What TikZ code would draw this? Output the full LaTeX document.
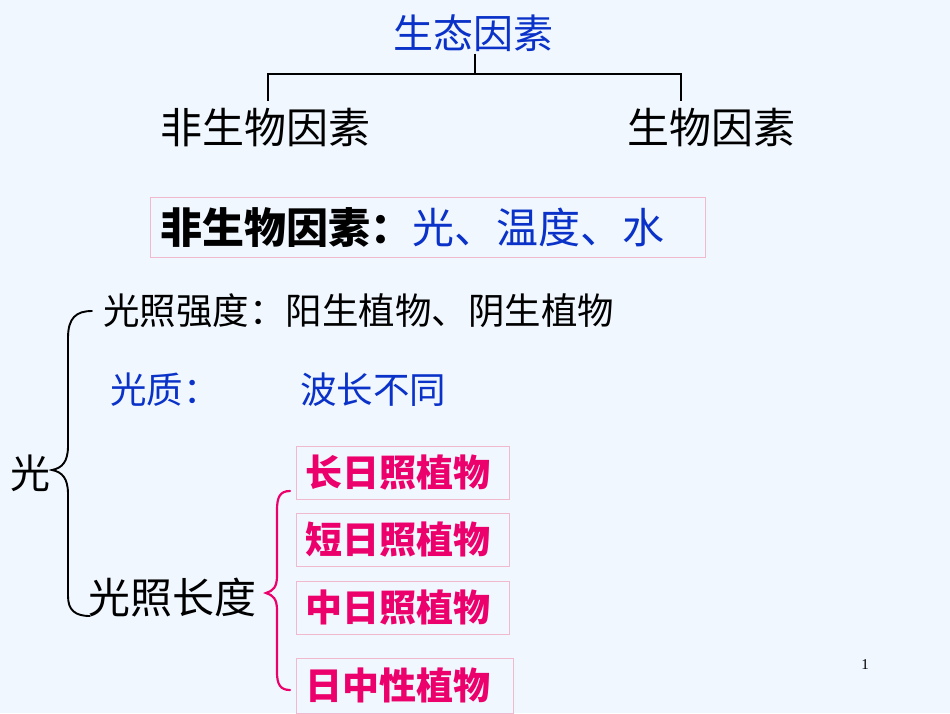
\documentclass[tikz,border=0pt]{standalone}
\usepackage{fontspec}
\setmainfont{Noto Sans CJK SC}
\newfontfamily\numfont{Liberation Serif}
\usepackage{tikz}

\definecolor{pagebg}{RGB}{240,247,254}
\definecolor{ecoblue}{RGB}{10,50,200}
\definecolor{plantpink}{RGB}{236,0,108}
\definecolor{boxpink}{RGB}{240,185,205}

\begin{document}
\begin{tikzpicture}[
        x=1pt,y=-1pt,
        title/.style={font=\fontsize{40}{44}\selectfont,text=ecoblue,inner sep=2pt},
        kind/.style={font=\fontsize{42}{46}\selectfont,inner sep=2pt},
        item/.style={anchor=west,font=\fontsize{36.5}{40}\selectfont,inner sep=0pt},
        plantbox/.style={draw=boxpink,line width=0.8pt,anchor=north west,minimum width=213,
            minimum height=53,inner xsep=9pt,text width=195pt,align=left,
            font=\fontsize{37}{40}\selectfont\bfseries,text=plantpink},
        tree/.style={line width=2.8pt},
        brace/.style={line width=1.9pt,line cap=round}
    ]
        \fill[pagebg] (0,0) rectangle (950,713);
        \useasboundingbox (0,0) rectangle (950,713);

        % Define the nodes
        \node[title] (eco) at (473,33) {生态因素};
        \node[kind] (abio) at (265,128) {非生物因素};
        \node[kind] (bio) at (711,128) {生物因素};
        \coordinate (fork) at (475,74);
        \coordinate (abioTop) at (268,101);
        \coordinate (bioTop) at (681,101);

        \node[draw=boxpink,line width=0.8pt,anchor=north west,minimum height=60,
            text width=535pt,inner xsep=10pt,align=left,
            font=\fontsize{42}{46}\selectfont] (abioBox) at (150,197)
            {\textbf{非生物因素：}\textcolor{ecoblue}{光、温度、水}};

        \node[item] (intensity) at (103,311) {光照强度：阳生植物、阴生植物};
        \node[item,text=ecoblue] (quality) at (110,390) {光质：};
        \node[item,text=ecoblue] (wave) at (300,390) {波长不同};
        \node[kind,font=\fontsize{40}{44}\selectfont] (light) at (30,473) {光};
        \node[kind,anchor=west,inner sep=0pt] (length) at (88,598) {光照长度};

        \node[plantbox] (longDay) at (296,446) {长日照植物};
        \node[plantbox] (shortDay) at (296,513) {短日照植物};
        \node[plantbox] (midDay) at (296,581) {中日照植物};
        \node[plantbox,minimum width=217,minimum height=55,text width=199pt] (neutral) at (296,658) {日中性植物};

        \node[font=\numfont\fontsize{15}{18}\selectfont] (page) at (865,665) {1};

        % Draw the tree
        \draw[tree] (eco.south -| fork) -- (fork);
        \draw[tree] (abioTop) |- (fork) -| (bioTop);

        % Draw the braces
        \draw[brace] (92,311) .. controls (76,311) and (68,318) .. (68,338) -- (68,446)
            .. controls (68,462) and (62,468) .. (52,470)
            .. controls (62,472) and (68,478) .. (68,494) -- (68,596)
            .. controls (68,610) and (75,616) .. (90,616);
        \draw[brace,plantpink,line width=2.2pt] (290,491) .. controls (280,491) and (277,497) .. (277,510) -- (277,576)
            .. controls (277,587) and (273,591) .. (266,593)
            .. controls (273,595) and (277,599) .. (277,610) -- (277,672)
            .. controls (277,684) and (280,690) .. (290,690);
    \end{tikzpicture}
\end{document}
